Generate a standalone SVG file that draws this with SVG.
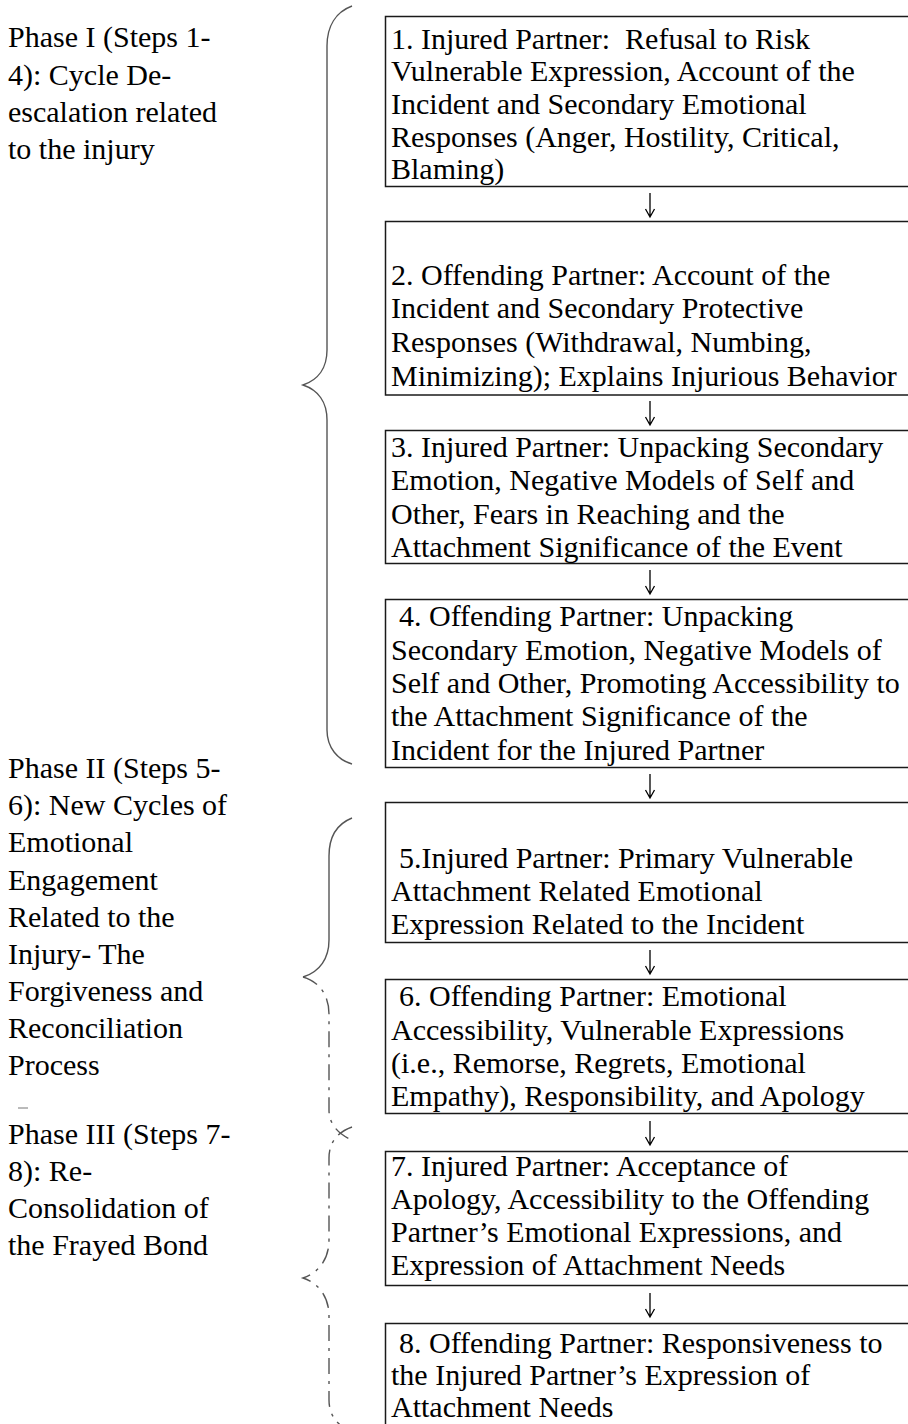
<svg xmlns="http://www.w3.org/2000/svg" width="908" height="1424" viewBox="0 0 908 1424">
<style>
.t{font-family:"Liberation Serif","Times New Roman",serif;font-size:30px;fill:#000}
.box{fill:#fff;stroke:#1a1a1a;stroke-width:1.5}
.brace{fill:none;stroke:#555;stroke-width:1.4}
.dash{stroke-dasharray:16 7 3 7}
.arr{fill:none;stroke:#000;stroke-width:1.3}
</style>
<rect width="908" height="1424" fill="#fff"/>
<g id="phase1-label">
<text class="t" x="8" y="47">Phase I (Steps 1-</text>
<text class="t" x="8" y="85">4):  Cycle De-</text>
<text class="t" x="8" y="122">escalation related</text>
<text class="t" x="8" y="159">to the injury</text>
</g>
<g id="phase2-label">
<text class="t" x="8" y="778">Phase II (Steps 5-</text>
<text class="t" x="8" y="815">6): New Cycles of</text>
<text class="t" x="8" y="852">Emotional</text>
<text class="t" x="8" y="890">Engagement</text>
<text class="t" x="8" y="927">Related to the</text>
<text class="t" x="8" y="964">Injury- The</text>
<text class="t" x="8" y="1001">Forgiveness and</text>
<text class="t" x="8" y="1038">Reconciliation</text>
<text class="t" x="8" y="1075">Process</text>
<line x1="18" y1="1108" x2="28" y2="1108" stroke="#777" stroke-width="1"/>
</g>
<g id="phase3-label">
<text class="t" x="8" y="1144">Phase III (Steps 7-</text>
<text class="t" x="8" y="1181">8): Re-</text>
<text class="t" x="8" y="1218">Consolidation of</text>
<text class="t" x="8" y="1255">the Frayed Bond</text>
</g>
<g id="braces">
<path class="brace" d="M352,6 C336,12 327,26 327,46 L327,350 C327,368 318,380 303,385 C318,390 327,402 327,420 L327,730 C327,748 338,760 352,764"/>
<path class="brace" d="M352,818 C337,824 329,836 329,856 L329,940 C329,958 320,972 303,977"/>
<path class="brace dash" d="M303,977 C320,982 329,996 329,1014 L329,1110 C329,1124 338,1134 352,1140"/>
<path class="brace dash" d="M352,1127 C338,1132 329,1142 329,1158 L329,1240 C329,1260 318,1273 303,1278 C318,1283 329,1296 329,1316 L329,1400 C329,1416 338,1426 352,1432"/>
</g>
<g id="step1"><rect class="box" x="385.5" y="16.5" width="600" height="170"/>
<text class="t" x="391" y="49" xml:space="preserve">1. Injured Partner:  Refusal to Risk</text>
<text class="t" x="391" y="81">Vulnerable Expression, Account of the</text>
<text class="t" x="391" y="114">Incident and Secondary Emotional</text>
<text class="t" x="391" y="147">Responses (Anger, Hostility, Critical,</text>
<text class="t" x="391" y="179">Blaming)</text></g>
<g id="step2"><rect class="box" x="385.5" y="221.5" width="600" height="173.5"/>
<text class="t" x="391" y="285">2. Offending Partner: Account of the</text>
<text class="t" x="391" y="318">Incident and Secondary Protective</text>
<text class="t" x="391" y="352">Responses (Withdrawal, Numbing,</text>
<text class="t" x="391" y="386">Minimizing); Explains Injurious Behavior</text></g>
<g id="step3"><rect class="box" x="385.5" y="430.5" width="600" height="133"/>
<text class="t" x="391" y="457">3. Injured Partner: Unpacking Secondary</text>
<text class="t" x="391" y="490">Emotion, Negative Models of Self and</text>
<text class="t" x="391" y="524">Other, Fears in Reaching and the</text>
<text class="t" x="391" y="557">Attachment Significance of the Event</text></g>
<g id="step4"><rect class="box" x="385.5" y="599.5" width="600" height="168"/>
<text class="t" x="399" y="626">4. Offending Partner: Unpacking</text>
<text class="t" x="391" y="660">Secondary Emotion, Negative Models of</text>
<text class="t" x="391" y="693">Self and Other, Promoting Accessibility to</text>
<text class="t" x="391" y="726">the Attachment Significance of the</text>
<text class="t" x="391" y="760">Incident for the Injured Partner</text></g>
<g id="step5"><rect class="box" x="385.5" y="802.5" width="600" height="140"/>
<text class="t" x="399" y="868">5.Injured Partner: Primary Vulnerable</text>
<text class="t" x="391" y="901">Attachment Related Emotional</text>
<text class="t" x="391" y="934">Expression Related to the Incident</text></g>
<g id="step6"><rect class="box" x="385.5" y="979.5" width="600" height="134"/>
<text class="t" x="399" y="1006">6. Offending Partner: Emotional</text>
<text class="t" x="391" y="1040">Accessibility, Vulnerable Expressions</text>
<text class="t" x="391" y="1073">(i.e., Remorse, Regrets, Emotional</text>
<text class="t" x="391" y="1106">Empathy), Responsibility, and Apology</text></g>
<g id="step7"><rect class="box" x="385.5" y="1151.5" width="600" height="134"/>
<text class="t" x="391" y="1176">7. Injured Partner: Acceptance of</text>
<text class="t" x="391" y="1209">Apology, Accessibility to the Offending</text>
<text class="t" x="391" y="1242">Partner’s Emotional Expressions, and</text>
<text class="t" x="391" y="1275">Expression of Attachment Needs</text></g>
<g id="step8"><rect class="box" x="385.5" y="1323.5" width="600" height="140"/>
<text class="t" x="399" y="1353">8. Offending Partner: Responsiveness to</text>
<text class="t" x="391" y="1385">the Injured Partner’s Expression of</text>
<text class="t" x="391" y="1417">Attachment Needs</text></g>
<g id="connectors">
<path class="arr" d="M650,193 V217 M645.5,209 L650,217 L654.5,209"/>
<path class="arr" d="M650,401 V425 M645.5,417 L650,425 L654.5,417"/>
<path class="arr" d="M650,570 V594 M645.5,586 L650,594 L654.5,586"/>
<path class="arr" d="M650,774 V798 M645.5,790 L650,798 L654.5,790"/>
<path class="arr" d="M650,950 V974 M645.5,966 L650,974 L654.5,966"/>
<path class="arr" d="M650,1121 V1145 M645.5,1137 L650,1145 L654.5,1137"/>
<path class="arr" d="M650,1293 V1317 M645.5,1309 L650,1317 L654.5,1309"/>
</g>
</svg>
